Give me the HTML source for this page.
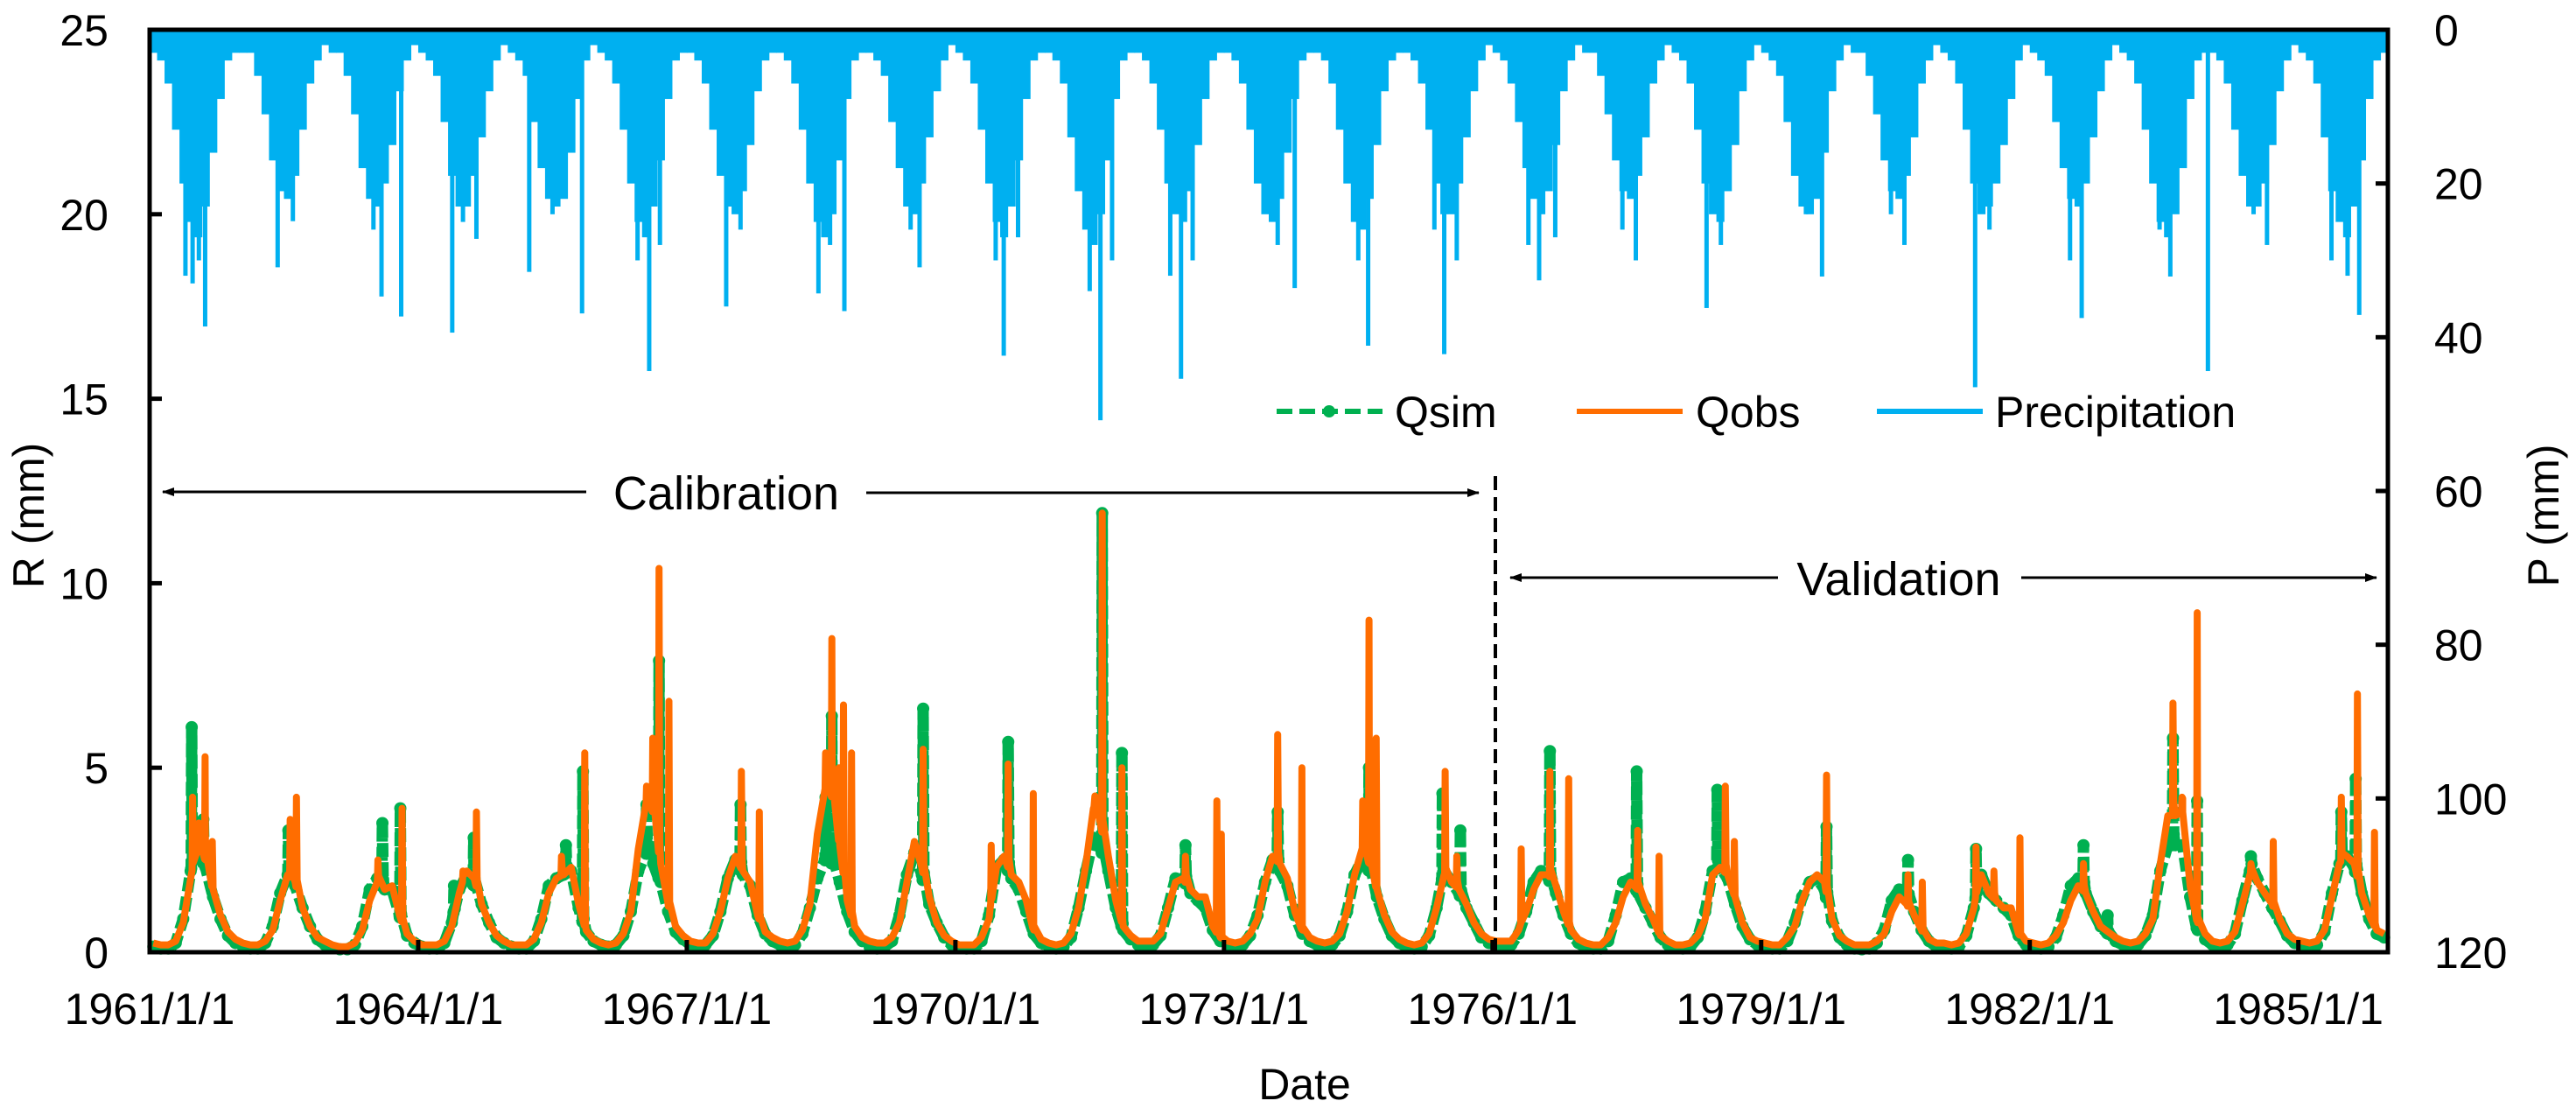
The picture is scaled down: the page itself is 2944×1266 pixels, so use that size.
<!DOCTYPE html>
<html><head><meta charset="utf-8"><style>
html,body{margin:0;padding:0;background:#fff;}
svg{display:block;font-family:"Liberation Sans",Arial,sans-serif;}
</style></head><body>
<svg id="chart" width="2944" height="1266" viewBox="0 0 2944 1266" xmlns="http://www.w3.org/2000/svg">
<g id="precip"></g>
<g id="qsim"></g>
<g id="qobs"></g>
<g id="axes"></g>
</svg>
<script>
const startYear = 1961;
const nYears = 25;
const xTickLabels = ["1961/1/1","1964/1/1","1967/1/1","1970/1/1","1973/1/1","1976/1/1","1979/1/1","1982/1/1","1985/1/1"];
const xTickYears = [1961,1964,1967,1970,1973,1976,1979,1982,1985];
const yLeftTicks = [0,5,10,15,20,25];
const yRightTicks = [0,20,40,60,80,100,120];

const qobsMonthly = [
.25,.2,.2,.3,.8,2.0,2.8,2.5,1.7,1.0,.55,.35,
.25,.2,.2,.3,.6,1.4,2.1,1.9,1.2,.7,.4,.3,
.2,.15,.15,.25,.6,1.4,1.9,1.7,1.8,1.0,.5,.3,
.2,.2,.2,.3,.7,1.6,2.2,2.0,1.3,.8,.45,.3,
.2,.2,.2,.35,.8,1.6,2.0,2.1,2.3,1.3,.6,.35,
.25,.2,.25,.5,1.1,2.8,4.0,3.8,2.4,1.3,.7,.45,
.3,.25,.25,.5,1.1,2.0,2.6,2.2,1.9,1.0,.55,.4,
.3,.25,.3,.6,1.3,3.2,4.4,4.2,2.9,1.4,.7,.4,
.3,.25,.25,.4,.8,1.9,3.0,2.3,1.5,.8,.45,.3,
.2,.2,.2,.4,.9,2.3,2.6,2.1,1.9,1.4,.6,.35,
.25,.2,.25,.5,1.2,2.4,3.9,3.4,2.6,1.4,.7,.45,
.3,.3,.3,.5,1.2,1.9,2.0,1.7,1.5,1.5,.7,.4,
.3,.25,.3,.5,.9,1.9,2.6,2.4,2.0,1.1,.6,.4,
.3,.25,.3,.5,1.1,2.1,2.8,2.4,1.7,1.0,.55,.35,
.25,.2,.25,.5,1.2,2.1,1.9,1.7,1.3,.8,.5,.35,
.3,.3,.3,.6,1.1,1.7,2.1,2.1,1.8,1.1,.6,.35,
.25,.2,.2,.4,.8,1.5,1.9,1.7,1.3,.9,.45,.3,
.2,.2,.25,.45,.9,2.1,2.3,2.1,1.5,.8,.4,.3,
.25,.2,.2,.4,.7,1.4,1.9,2.1,1.9,.9,.45,.3,
.2,.2,.2,.3,.5,1.1,1.5,1.3,1.0,.6,.35,.25,
.25,.2,.25,.5,1.2,2.1,1.6,1.4,1.2,1.2,.5,.3,
.25,.2,.25,.45,.8,1.4,1.8,1.6,1.1,.7,.55,.4,
.3,.25,.3,.5,.9,2.4,3.7,3.7,3.8,1.8,.8,.5,
.3,.25,.3,.55,1.3,2.1,1.9,1.6,1.3,.9,.5,.35,
.3,.25,.3,.6,1.5,2.4,2.6,2.4,1.6,1.0,.6,.5];

const qsimMonthly = [
.15,.1,.1,.25,.9,2.2,2.7,2.3,1.5,.9,.45,.25,
.15,.1,.1,.25,.7,1.6,2.1,1.8,1.2,.7,.35,.2,
.12,.08,.08,.2,.7,1.7,2.0,1.7,1.7,1.0,.45,.25,
.15,.1,.1,.25,.8,1.7,2.1,1.8,1.3,.8,.4,.25,
.15,.1,.1,.3,.9,1.8,2.0,2.1,2.2,1.2,.55,.3,
.2,.15,.2,.45,1.1,2.2,2.7,2.4,1.9,1.1,.55,.35,
.2,.15,.2,.45,1.1,2.0,2.5,2.1,1.8,1.0,.5,.3,
.2,.15,.2,.5,1.2,2.0,2.5,2.4,1.9,1.1,.55,.3,
.15,.1,.15,.3,1.0,2.1,2.7,2.1,1.3,.8,.4,.2,
.12,.1,.1,.3,1.0,2.3,2.5,2.0,1.7,1.1,.5,.25,
.15,.1,.15,.4,1.2,2.2,3.1,2.8,2.2,1.2,.6,.35,
.2,.15,.2,.45,1.2,2.0,2.0,1.6,1.4,1.2,.6,.3,
.2,.15,.2,.45,1.0,1.9,2.5,2.2,1.8,1.0,.5,.3,
.2,.15,.2,.45,1.1,2.1,2.5,2.2,1.5,.9,.45,.25,
.15,.1,.15,.45,1.2,2.2,1.9,1.6,1.2,.8,.4,.25,
.2,.15,.2,.5,1.1,1.9,2.2,2.0,1.6,1.0,.5,.25,
.12,.1,.1,.3,1.0,1.9,2.0,1.6,1.2,.8,.4,.2,
.12,.1,.15,.4,1.1,2.2,2.3,2.0,1.3,.7,.35,.2,
.12,.1,.1,.3,.8,1.5,1.9,2.0,1.7,.85,.4,.2,
.1,.08,.1,.25,.6,1.4,1.7,1.5,1.1,.6,.3,.15,
.12,.1,.15,.45,1.2,2.1,1.6,1.4,1.2,1.0,.45,.2,
.15,.1,.15,.4,1.0,1.8,2.0,1.6,1.1,.7,.5,.3,
.2,.15,.2,.45,1.0,2.2,2.9,2.9,2.9,1.5,.6,.35,
.2,.15,.2,.5,1.4,2.2,2.0,1.6,1.2,.85,.45,.25,
.2,.15,.2,.55,1.6,2.4,2.6,2.3,1.6,.9,.5,.4];

const qobsPeakTimes = [1961.48,1961.55,1961.62,1961.7,1962.57,1962.64,1963.55,1963.82,1964.5,1964.65,1965.6,1965.86,1966.55,1966.62,1966.69,1966.8,1967.61,1967.81,1968.55,1968.62,1968.7,1968.75,1968.84,1969.64,1970.4,1970.59,1970.87,1971.55,1971.64,1971.86,1972.57,1972.92,1972.97,1973.6,1973.87,1974.55,1974.62,1974.7,1975.47,1975.6,1976.32,1976.64,1976.85,1977.62,1977.86,1978.6,1978.7,1979.73,1980.64,1980.8,1981.4,1981.6,1981.89,1982.6,1983.6,1983.7,1983.87,1984.47,1984.72,1985.48,1985.66,1985.85];
const qobsPeakValues = [4.2,3.5,5.3,3.0,3.6,4.2,2.5,3.9,2.2,3.8,2.6,5.4,4.5,5.8,10.4,6.8,4.9,3.8,5.4,8.5,5.0,6.7,5.4,5.5,2.9,5.1,4.3,4.0,11.9,5.0,2.6,4.1,3.2,5.9,5.0,4.1,9.0,5.8,4.9,2.6,2.8,4.9,4.7,3.3,2.6,4.5,3.0,4.8,2.1,1.9,2.85,2.2,3.1,2.4,6.75,4.2,9.2,2.4,3.0,4.2,7.0,3.25];

const qsimPeakTimes = [1961.47,1961.6,1962.55,1963.6,1963.8,1964.4,1964.62,1965.65,1965.84,1966.55,1966.69,1967.6,1968.55,1968.62,1969.64,1970.59,1971.64,1971.86,1972.57,1973.6,1974.62,1975.44,1975.64,1976.64,1977.61,1978.51,1979.73,1980.64,1981.4,1982.6,1982.87,1983.6,1983.87,1984.47,1985.48,1985.64];
const qsimPeakValues = [6.1,3.6,3.3,3.5,3.9,1.8,3.1,2.9,4.9,4.0,7.9,4.0,4.2,6.4,6.6,5.7,11.9,5.4,2.9,3.8,5.0,4.3,3.3,5.45,4.9,4.4,3.4,2.5,2.8,2.9,1.0,5.8,4.1,2.6,3.8,4.7];

const precipMonthly = [
3,4,7,13,20,25,27,23,16,9,4,3,
3,3,6,11,17,21,22,19,13,7,4,2,
3,3,6,11,18,22,23,20,15,8,4,2,
3,4,6,12,19,23,23,19,14,8,4,2,
3,4,6,12,18,22,23,22,16,9,4,2,
3,4,7,13,20,25,27,23,17,9,4,3,
3,4,7,13,19,23,24,21,15,8,4,3,
3,4,7,13,20,25,27,24,17,9,4,3,
3,4,6,12,18,23,24,20,14,8,4,2,
3,4,7,13,20,25,27,23,17,9,4,3,
3,4,7,14,21,26,28,24,17,9,4,3,
3,4,7,13,20,24,25,21,15,9,4,3,
3,4,7,13,20,24,25,22,16,9,4,3,
3,4,7,13,20,25,26,22,15,8,4,3,
3,4,7,13,20,24,24,20,14,8,4,2,
3,4,7,12,18,22,24,21,15,8,4,2,
3,3,6,11,17,21,22,19,14,7,4,2,
3,4,7,13,20,24,25,21,15,8,4,2,
3,4,6,12,19,23,24,22,16,8,4,2,
3,3,6,11,17,21,22,19,14,7,4,2,
3,4,7,13,20,24,23,20,15,9,4,2,
3,4,6,12,18,22,23,20,14,8,4,2,
3,4,7,13,20,25,27,24,18,9,4,3,
3,4,7,13,19,23,23,20,15,8,4,2,
3,4,7,14,21,25,27,23,17,9,4,3];

const precipSpikeTimes = [1961.4,1961.48,1961.55,1961.62,1962.43,1962.6,1963.5,1963.59,1963.81,1964.38,1964.5,1964.65,1965.24,1965.5,1965.83,1966.45,1966.58,1966.7,1967.44,1967.6,1968.47,1968.6,1968.76,1969.5,1969.6,1970.45,1970.54,1970.7,1971.5,1971.62,1971.75,1972.4,1972.52,1972.65,1973.6,1973.79,1974.5,1974.61,1975.35,1975.46,1975.6,1976.4,1976.52,1976.7,1977.45,1977.6,1978.39,1978.55,1979.5,1979.68,1980.45,1980.6,1981.39,1981.55,1982.45,1982.58,1983.45,1983.57,1983.99,1984.5,1984.65,1985.37,1985.55,1985.68];
const precipSpikeValues = [32,33,30,38.6,30.9,24.9,26,34.7,37.3,39.4,25,27.2,31.5,24,36.9,30,44.4,28,36,26,34.3,28,36.6,26,30.9,30,42.4,27,34,50.8,30,32,45.4,30,28,33.6,30,41.1,26,42.2,30,28,32.6,27,26,30,36.2,28,24,32.1,24,28,46.5,26,30,37.5,26,32.1,44.4,24,28,30,32,37.1];

const NS = "http://www.w3.org/2000/svg";
const L = 171, R = 2729, T = 34, B = 1088;
function xS(t){ return L + (t - startYear) * (R - L) / nYears; }
function yR(v){ return B - v * (B - T) / 25; }
function yP(p){ return T + p * (B - T) / 120; }
function mk(tag, attrs, parent){ const e = document.createElementNS(NS, tag); for (const k in attrs) e.setAttribute(k, attrs[k]); parent.appendChild(e); return e; }

const pg = document.getElementById('precip');
const mw = (R - L) / nYears / 12;
precipMonthly.forEach((d, i) => {
  const t = startYear + i / 12;
  const r = mk('rect', {x: xS(t), y: T, width: mw + 0.6, height: yP(d) - T, fill: '#00B0F0'}, pg);
  
  
});
precipSpikeTimes.forEach((t, i) => {
  const r = mk('rect', {x: xS(t) - 2.5, y: T, width: 5, height: yP(precipSpikeValues[i]) - T, fill: '#00B0F0'}, pg);
  
  
});

function buildPoints(monthly, pt, pv){
  const mon = monthly.map((v, i) => [startYear + (i + 0.5) / 12, v]);
  function base(t){
    for (let i = 0; i < mon.length - 1; i++) if (t >= mon[i][0] && t <= mon[i+1][0]) {
      const f = (t - mon[i][0]) / (mon[i+1][0] - mon[i][0]); return mon[i][1] * (1 - f) + mon[i+1][1] * f; }
    return mon[mon.length - 1][1];
  }
  let pts = mon.slice();
  pt.forEach((t, i) => { const b = base(t); pts.push([t - 0.006, b]); pts.push([t, pv[i]]); pts.push([t + 0.008, b * 1.1]); });
  pts.sort((a, b) => a[0] - b[0]);
  return pts;
}
const simPts = buildPoints(qsimMonthly, qsimPeakTimes, qsimPeakValues);
const obsPts = buildPoints(qobsMonthly, qobsPeakTimes, qobsPeakValues);
const sg = document.getElementById('qsim');
const simLine = mk('polyline', {points: simPts.map(p => xS(p[0]).toFixed(1) + ',' + yR(p[1]).toFixed(1)).join(' '), fill: 'none', stroke: '#00B050', 'stroke-width': 13, 'stroke-dasharray': '16 6', 'stroke-linejoin': 'round'}, sg);


simPts.forEach(p => {
  const c = mk('circle', {cx: xS(p[0]), cy: yR(p[1]), r: 7, fill: '#00B050'}, sg);
  
  
});
const og = document.getElementById('qobs');
const obsLine = mk('polyline', {points: obsPts.map(p => xS(p[0]).toFixed(1) + ',' + yR(p[1]).toFixed(1)).join(' '), fill: 'none', stroke: '#FF6D00', 'stroke-width': 8, 'stroke-linejoin': 'round'}, og);



const ag = document.getElementById('axes');
const frame = mk('rect', {x: L, y: T, width: R - L, height: B - T, fill: 'none', stroke: '#000', 'stroke-width': 5}, ag);


xTickYears.forEach((yv, i) => {
  const x = xS(yv);
  const tk = mk('line', {x1: x, y1: B, x2: x, y2: B - 14, stroke: '#000', 'stroke-width': 5}, ag);
  
  
  const tx = mk('text', {x: x, y: 1170, 'font-size': 50, 'text-anchor': 'middle', fill: '#000'}, ag);
  tx.textContent = xTickLabels[i];
  
  
});
yLeftTicks.forEach(v => {
  const y = yR(v);
  const tk = mk('line', {x1: L, y1: y, x2: L + 14, y2: y, stroke: '#000', 'stroke-width': 5}, ag);
  
  
  const tx = mk('text', {x: 124, y: y + 18, 'font-size': 50, 'text-anchor': 'end', fill: '#000'}, ag);
  tx.textContent = v;
  
  
});
yRightTicks.forEach(v => {
  const y = yP(v);
  const tk = mk('line', {x1: R, y1: y, x2: R - 14, y2: y, stroke: '#000', 'stroke-width': 5}, ag);
  
  
  const tx = mk('text', {x: 2782, y: y + 18, 'font-size': 50, 'text-anchor': 'start', fill: '#000'}, ag);
  tx.textContent = v;
  
  
});
</script>
<svg style="position:absolute;left:0;top:0" width="2944" height="1266">
  <defs>
    <marker id="ah" markerWidth="14" markerHeight="10" refX="13" refY="5" orient="auto" markerUnits="userSpaceOnUse" viewBox="0 0 14 10"><path d="M0,0 L14,5 L0,10 Z" fill="#000"/></marker>
  </defs>
  <g font-family="Liberation Sans, Arial, sans-serif" fill="#000">
    <text x="1491" y="1256" font-size="50" text-anchor="middle">Date</text>
    <text transform="translate(50,589) rotate(-90)" font-size="50" text-anchor="middle">R (mm)</text>
    <text transform="translate(2924,589) rotate(-90)" font-size="50" text-anchor="middle">P (mm)</text>
    <g>
      <line x1="670" y1="562" x2="186" y2="562" stroke="#000" stroke-width="3" marker-end="url(#ah)"/>
      <line x1="990" y1="563" x2="1690" y2="563" stroke="#000" stroke-width="3" marker-end="url(#ah)"/>
      <text x="830" y="582" font-size="54" text-anchor="middle">Calibration</text>
    </g>
    <line x1="1709" y1="544" x2="1709" y2="1088" stroke="#000" stroke-width="4" stroke-dasharray="16 8"/>
    <g>
      <line x1="2032" y1="660" x2="1726" y2="660" stroke="#000" stroke-width="3" marker-end="url(#ah)"/>
      <line x1="2310" y1="660" x2="2716" y2="660" stroke="#000" stroke-width="3" marker-end="url(#ah)"/>
      <text x="2170" y="680" font-size="54" text-anchor="middle">Validation</text>
    </g>
    <g>
      <g>
        <line x1="1459" y1="470" x2="1580" y2="470" stroke="#00B050" stroke-width="6" stroke-dasharray="18 8"/>
        <circle cx="1519" cy="470" r="7" fill="#00B050"/>
        <text x="1594" y="488" font-size="50">Qsim</text>
      </g>
      <g>
        <line x1="1802" y1="470" x2="1923" y2="470" stroke="#FF6D00" stroke-width="6"/>
        <text x="1938" y="488" font-size="50">Qobs</text>
      </g>
      <g>
        <line x1="2145" y1="470" x2="2266" y2="470" stroke="#00B0F0" stroke-width="6"/>
        <text x="2280" y="488" font-size="50">Precipitation</text>
      </g>
    </g>
  </g>
</svg>
</body></html>
